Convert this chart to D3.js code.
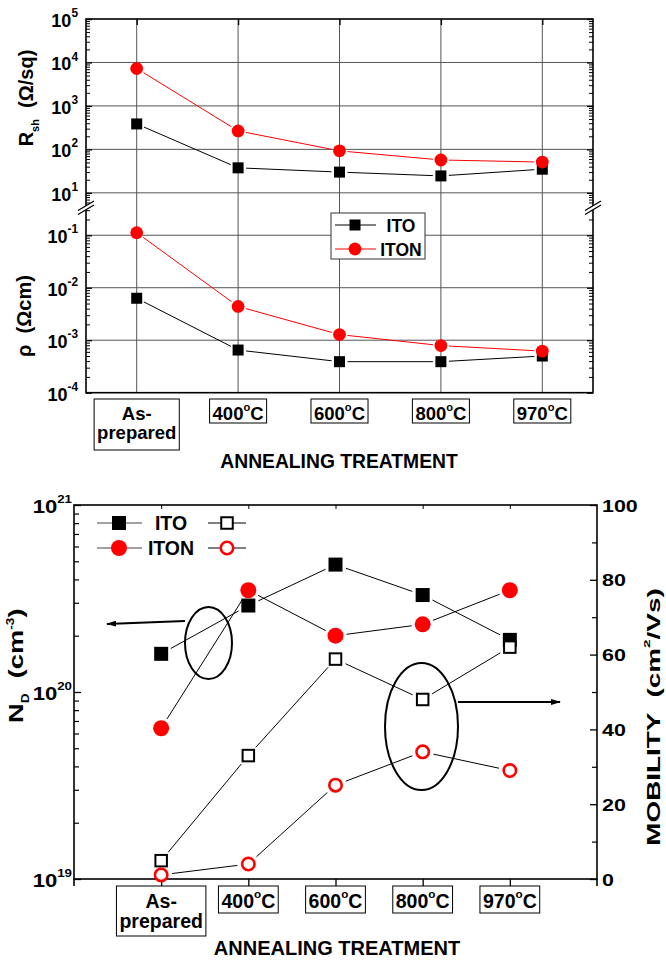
<!DOCTYPE html>
<html><head><meta charset="utf-8">
<script src="https://cdn.jsdelivr.net/npm/d3@7/dist/d3.min.js"></script>
<style>body{margin:0;background:#fff}svg{display:block}text{white-space:pre}</style>
</head><body>
<svg id="c" width="666" height="962"></svg>
<script>
// ---------- DATA ----------
const categories = ["As-prepared", "400°C", "600°C", "800°C", "970°C"];
const catLines = [["As-", "prepared"], ["400"], ["600"], ["800"], ["970"]];
// top panel: sheet resistance (Ω/sq) and resistivity (Ωcm)
const rshITO  = [385, 37.6, 30, 24.5, 35];
const rshITON = [7270, 266, 92.5, 57, 51];
const rhoITO  = [6.3e-3, 6.5e-4, 3.9e-4, 3.9e-4, 5.0e-4];
const rhoITON = [0.112, 4.4e-3, 1.28e-3, 7.9e-4, 6.2e-4];
// bottom panel: carrier concentration (cm^-3) and mobility (cm2/Vs)
const ndITO  = [1.6e20, 2.9e20, 4.8e20, 3.3e20, 1.9e20];
const ndITON = [6.4e19, 3.5e20, 2.0e20, 2.3e20, 3.5e20];
const muITO  = [4.9, 33, 58.8, 48, 62];
const muITON = [1.1, 4.0, 25.1, 34, 29];
// tick values
const rshTicks = [1e1, 1e2, 1e3, 1e4, 1e5];
const rhoTicks = [1e-4, 1e-3, 1e-2, 1e-1];
const ndTicks  = [1e19, 1e20, 1e21];
const muTicks  = [0, 20, 40, 60, 80, 100];
const muMinor  = [10, 30, 50, 70, 90];
const seriesNames = ["ITO", "ITON"];

const RED = "#ff0000";
const FONT = "'Liberation Sans', Arial, sans-serif";
const svg = d3.select("#c");

function addText(parent, x, y, segs, o) {
  const t = parent.append("text")
    .attr("transform", `translate(${x},${y}) rotate(${o.rot || 0}) scale(${o.sx || 1},1)`)
    .attr("text-anchor", o.anchor || "middle")
    .attr("font-size", o.fs).attr("font-weight", "bold")
    .attr("font-family", FONT).attr("fill", o.fill || "#000");
  let cur = 0;
  segs.forEach(s => {
    const [str, kind] = typeof s === "string" ? [s, "n"] : s;
    const target = kind === "sup" ? -o.fs * (o.supUp || 0.55) : kind === "sub" ? o.fs * 0.3 : 0;
    t.append("tspan").attr("dy", target - cur)
      .attr("font-size", kind === "n" ? o.fs : o.fs * (o.small || 0.64)).text(str);
    cur = target;
  });
  return t;
}
function minorLog(lo, hi) {
  const out = [];
  for (let e = Math.floor(Math.log10(lo)); e <= Math.ceil(Math.log10(hi)); e++)
    for (let d = 2; d <= 9; d++) { const v = d * Math.pow(10, e); if (v >= lo && v <= hi) out.push(v); }
  return out;
}
function shortSeg(p, q, g) {
  const dx = q[0] - p[0], dy = q[1] - p[1], L = Math.hypot(dx, dy);
  if (L < 2 * g) return null;
  const ux = dx / L, uy = dy / L;
  return [p[0] + ux * g, p[1] + uy * g, q[0] - ux * g, q[1] - uy * g];
}
function drawLine(g, pts, color, gap, w) {
  for (let i = 0; i < pts.length - 1; i++) {
    const s = shortSeg(pts[i], pts[i + 1], gap);
    if (s) g.append("line").attr("x1", s[0]).attr("y1", s[1]).attr("x2", s[2]).attr("y2", s[3])
      .attr("stroke", color).attr("stroke-width", w || 1);
  }
}
function square(g, x, y, s, fill, stroke, sw) {
  g.append("rect").attr("x", x - s / 2).attr("y", y - s / 2).attr("width", s).attr("height", s)
    .attr("fill", fill).attr("stroke", stroke || "none").attr("stroke-width", sw || 0);
}
function circle(g, x, y, r, fill, stroke, sw) {
  g.append("circle").attr("cx", x).attr("cy", y).attr("r", r)
    .attr("fill", fill).attr("stroke", stroke || "none").attr("stroke-width", sw || 0);
}
function styleAxis(sel, w) {
  sel.select(".domain").remove();
  sel.selectAll(".tick line").attr("stroke", "#000").attr("stroke-width", w || 1.3);
}
function catLabel(parent, x, lines, o) {
  const g = parent.append("g").attr("transform", `translate(${x},0)`);
  if (lines.length === 2) {
    addText(g, 0, o.b1, [lines[0]], { fs: o.fs });
    addText(g, 0, o.b2, [lines[1]], { fs: o.fs });
  } else {
    addText(g, 0, o.b1, [lines[0], ["o", "sup"], "C"], { fs: o.fs, small: 0.6, supUp: 0.5 });
  }
  const bb = g.node().getBBox();
  const y0 = o.b1 - o.top;
  const y1 = lines.length === 2 ? o.b2 + o.bot2 : o.b1 + o.bot1;
  g.insert("rect", ":first-child").attr("x", bb.x - 3).attr("y", y0)
    .attr("width", bb.width + 6).attr("height", y1 - y0)
    .attr("fill", "#fff").attr("stroke", "#000").attr("stroke-width", 1);
}

// ================= TOP PANEL =================
const T = { l: 86, r: 593, t: 19, b: 392.7, brkU: 205, brkL: 209 };
const xT = d3.scalePoint().domain(categories).range([T.l, T.r]).padding(0.5);
const yRsh = d3.scaleLog().domain([Math.pow(10, 0.72), 1e5]).range([T.brkU, T.t]);
const yRho = d3.scaleLog().domain([1e-4, Math.pow(10, -0.5)]).range([T.b, T.brkL]);
const gT = svg.append("g");

// grid
const grid = gT.append("g").attr("stroke", "#555").attr("stroke-width", 1);
rshTicks.slice(0, -1).forEach(v => grid.append("line").attr("x1", T.l).attr("x2", T.r).attr("y1", yRsh(v)).attr("y2", yRsh(v)));
rhoTicks.slice(1).forEach(v => grid.append("line").attr("x1", T.l).attr("x2", T.r).attr("y1", yRho(v)).attr("y2", yRho(v)));
categories.forEach(c => grid.append("line").attr("x1", xT(c)).attr("x2", xT(c)).attr("y1", T.t).attr("y2", T.b));

// ticks
[[d3.axisLeft, T.l], [d3.axisRight, T.r]].forEach(([ax, x]) => {
  styleAxis(gT.append("g").attr("transform", `translate(${x},0)`).call(ax(yRsh).tickValues(rshTicks).tickSize(-6).tickFormat("")));
  styleAxis(gT.append("g").attr("transform", `translate(${x},0)`).call(ax(yRsh).tickValues(minorLog(yRsh.domain()[0], 1e5)).tickSize(-4).tickFormat("")), 1);
  styleAxis(gT.append("g").attr("transform", `translate(${x},0)`).call(ax(yRho).tickValues(rhoTicks).tickSize(-6).tickFormat("")));
  styleAxis(gT.append("g").attr("transform", `translate(${x},0)`).call(ax(yRho).tickValues(minorLog(1e-4, yRho.domain()[1])).tickSize(-4).tickFormat("")), 1);
});
styleAxis(gT.append("g").attr("transform", `translate(0,${T.t})`).call(d3.axisBottom(xT).tickSize(6).tickFormat("")));

// frame
gT.append("rect").attr("x", T.l).attr("y", T.t).attr("width", T.r - T.l).attr("height", T.b - T.t)
  .attr("fill", "none").attr("stroke", "#000").attr("stroke-width", 1.6);
// axis breaks
[T.l, T.r].forEach(x => {
  gT.append("polygon").attr("points", `${x - 7},${210} ${x + 8},${201} ${x + 8},${205} ${x - 7},${214}`).attr("fill", "#fff");
  gT.append("line").attr("x1", x - 8).attr("y1", 210.5).attr("x2", x + 8).attr("y2", 201).attr("stroke", "#000").attr("stroke-width", 1.3);
  gT.append("line").attr("x1", x - 8).attr("y1", 214.5).attr("x2", x + 8).attr("y2", 205).attr("stroke", "#000").attr("stroke-width", 1.3);
});

// tick labels
rshTicks.forEach(v => addText(gT, 78, yRsh(v) + 8, ["10", [String(Math.round(Math.log10(v))), "sup"]], { fs: 18, anchor: "end", small: 0.66 }));
rhoTicks.forEach(v => addText(gT, 78, yRho(v) + 8, ["10", [String(Math.round(Math.log10(v))), "sup"]], { fs: 18, anchor: "end", small: 0.66 }));
categories.forEach((c, i) => catLabel(gT, xT(c), catLines[i], { fs: 18.5, b1: 420, b2: 439, top: 21, bot1: 3, bot2: 11 }));
addText(gT, 339, 468, ["ANNEALING TREATMENT"], { fs: 19.3 });
addText(gT, 33, 98, [["R", "n"], ["sh", "sub"], ["  (Ω/sq)", "n"]], { fs: 20, rot: -90, small: 0.55 });
addText(gT, 31, 316, ["ρ  (Ωcm)"], { fs: 20, rot: -90 });

// series
const marksT = gT.append("g");
const pR1 = categories.map((c, i) => [xT(c), yRsh(rshITO[i])]);
const pR2 = categories.map((c, i) => [xT(c), yRsh(rshITON[i])]);
const pP1 = categories.map((c, i) => [xT(c), yRho(rhoITO[i])]);
const pP2 = categories.map((c, i) => [xT(c), yRho(rhoITON[i])]);
drawLine(marksT, pR1, "#000", 8); drawLine(marksT, pP1, "#000", 8);
drawLine(marksT, pR2, RED, 8); drawLine(marksT, pP2, RED, 8);
pR1.concat(pP1).forEach(p => square(marksT, p[0], p[1], 11, "#000"));
pR2.concat(pP2).forEach(p => circle(marksT, p[0], p[1], 6.4, RED));

// legend
const lgT = gT.append("g");
lgT.append("rect").attr("x", 331).attr("y", 213).attr("width", 94).attr("height", 46).attr("fill", "#fff").attr("stroke", "#333").attr("stroke-width", 1);
lgT.append("line").attr("x1", 335).attr("x2", 376).attr("y1", 225).attr("y2", 225).attr("stroke", "#000");
square(lgT, 355, 225, 11, "#000");
lgT.append("line").attr("x1", 335).attr("x2", 376).attr("y1", 249).attr("y2", 249).attr("stroke", RED);
circle(lgT, 355, 249, 6.4, RED);
addText(lgT, 401, 231.5, [seriesNames[0]], { fs: 17.5 });
addText(lgT, 401, 255.5, [seriesNames[1]], { fs: 17.5 });

// ================= BOTTOM PANEL =================
const B = { l: 74, r: 597, t: 505, b: 879 };
const xB = d3.scalePoint().domain(categories).range([B.l, B.r]).padding(1);
const yNd = d3.scaleLog().domain([1e19, 1e21]).range([B.b, B.t]);
const yMu = d3.scaleLinear().domain([0, 100]).range([B.b, B.t]);
const gB = svg.append("g");

styleAxis(gB.append("g").attr("transform", `translate(${B.l},0)`).call(d3.axisLeft(yNd).tickValues(ndTicks).tickSize(-7).tickFormat("")));
styleAxis(gB.append("g").attr("transform", `translate(${B.l},0)`).call(d3.axisLeft(yNd).tickValues(minorLog(1e19, 1e21)).tickSize(-5).tickFormat("")), 1.2);
styleAxis(gB.append("g").attr("transform", `translate(${B.r},0)`).call(d3.axisRight(yMu).tickValues(muTicks).tickSize(-7).tickFormat("")));
styleAxis(gB.append("g").attr("transform", `translate(${B.r},0)`).call(d3.axisRight(yMu).tickValues(muMinor).tickSize(-5).tickFormat("")), 1.2);
styleAxis(gB.append("g").attr("transform", `translate(0,${B.b})`).call(d3.axisBottom(xB).tickSize(7).tickFormat("")));
styleAxis(gB.append("g").attr("transform", `translate(0,${B.t})`).call(d3.axisBottom(xB).tickSize(4).tickFormat("")), 1);

// frame
gB.append("rect").attr("x", B.l).attr("y", B.t).attr("width", B.r - B.l).attr("height", B.b - B.t)
  .attr("fill", "none").attr("stroke", "#000").attr("stroke-width", 1.6);
gB.append("line").attr("x1", B.l).attr("x2", B.l).attr("y1", B.b).attr("y2", B.b + 7).attr("stroke", "#000").attr("stroke-width", 1.6);
gB.append("line").attr("x1", B.r).attr("x2", B.r).attr("y1", B.b).attr("y2", B.b + 7).attr("stroke", "#000").attr("stroke-width", 1.6);

// tick labels
ndTicks.forEach(v => addText(gB, 72, yNd(v) + 7.5, ["10", [String(Math.round(Math.log10(v))), "sup"]], { fs: 17.7, sx: 1.25, anchor: "end", small: 0.6 }));
muTicks.forEach(v => addText(gB, 602, yMu(v) + 6.5, [String(v)], { fs: 16.5, sx: 1.3, anchor: "start" }));
categories.forEach((c, i) => catLabel(gB, xB(c), catLines[i], { fs: 19.5, b1: 908, b2: 928, top: 22, bot1: 5, bot2: 8 }));
addText(gB, 337, 955, ["ANNEALING TREATMENT"], { fs: 20 });
addText(gB, 23, 723, [["N", "n"], ["D", "sub"], ["  (cm", "n"], ["-3", "sup"], [")", "n"]], { fs: 21, sx: 1.3, rot: -90, anchor: "start", small: 0.5, supUp: 0.45 });
addText(gB, 660, 717, [["MOBILITY  (cm", "n"], ["2", "sup"], ["/Vs)", "n"]], { fs: 18, sx: 1.55, rot: -90, small: 0.55 });

// annotations
const defs = svg.append("defs");
defs.append("marker").attr("id", "ah").attr("viewBox", "0 0 10 6").attr("refX", 9).attr("refY", 3)
  .attr("markerWidth", 10).attr("markerHeight", 6).attr("markerUnits", "userSpaceOnUse").attr("orient", "auto")
  .append("path").attr("d", "M0,0 L10,3 L0,6 Z").attr("fill", "#000");
const ann = gB.append("g").attr("fill", "none").attr("stroke", "#000").attr("stroke-width", 2);
ann.append("ellipse").attr("cx", 208.5).attr("cy", 643).attr("rx", 23.5).attr("ry", 36);
ann.append("line").attr("x1", 185).attr("y1", 621).attr("x2", 107).attr("y2", 624).attr("marker-end", "url(#ah)");
ann.append("ellipse").attr("cx", 421.5).attr("cy", 726.5).attr("rx", 36.5).attr("ry", 63.5);
ann.append("line").attr("x1", 458).attr("y1", 702).attr("x2", 560).attr("y2", 702).attr("marker-end", "url(#ah)");

// series
const marksB = gB.append("g");
const pN1 = categories.map((c, i) => [xB(c), yNd(ndITO[i])]);
const pN2 = categories.map((c, i) => [xB(c), yNd(ndITON[i])]);
const pM1 = categories.map((c, i) => [xB(c), yMu(muITO[i])]);
const pM2 = categories.map((c, i) => [xB(c), yMu(muITON[i])]);
[pN1, pN2, pM1, pM2].forEach(p => drawLine(marksB, p, "#000", 11));
pN1.forEach(p => square(marksB, p[0], p[1], 14, "#000"));
pN2.forEach(p => circle(marksB, p[0], p[1], 8, RED));
pM1.forEach(p => square(marksB, p[0], p[1], 11.5, "#fff", "#000", 2));
pM2.forEach(p => circle(marksB, p[0], p[1], 6.2, "#fff", RED, 2.6));

// legend
const lgB = gB.append("g");
[[523, 0], [548, 1]].forEach(([y, k]) => {
  lgB.append("line").attr("x1", 97).attr("x2", 142).attr("y1", y).attr("y2", y).attr("stroke", "#444");
  lgB.append("line").attr("x1", 208).attr("x2", 246).attr("y1", y).attr("y2", y).attr("stroke", "#000");
  if (k === 0) { square(lgB, 119, y, 14, "#000"); square(lgB, 227, y, 11.5, "#fff", "#000", 2); }
  else { circle(lgB, 119, y, 8, RED); circle(lgB, 227, y, 6.2, "#fff", RED, 2.6); }
  addText(lgB, 171, y + 7, [seriesNames[k]], { fs: 19.5 });
});
</script>
</body></html>
